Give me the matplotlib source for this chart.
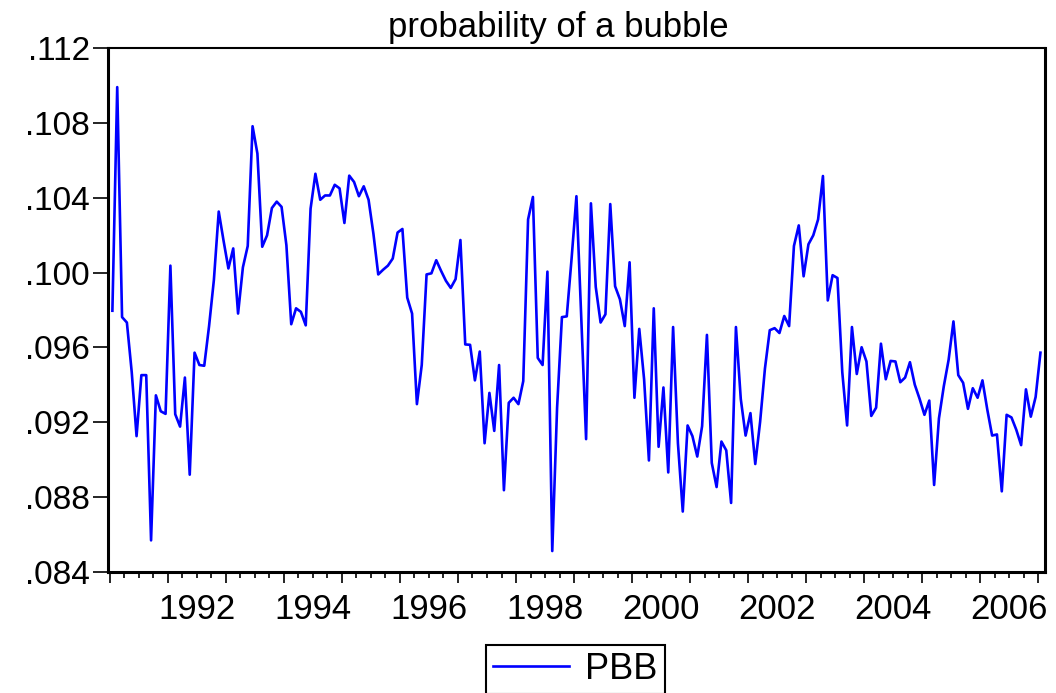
import numpy as np
import matplotlib
matplotlib.use("Agg")
import matplotlib.pyplot as plt
from matplotlib.ticker import FixedLocator, FuncFormatter
from matplotlib.transforms import blended_transform_factory

plt.rcParams['font.family'] = ['Liberation Sans', 'DejaVu Sans']

# ---- data: monthly series PBB, 1991:01 - 2007:01 ----
start_year = 1991
start_month = 1
pbb = [
    .09796, .10991, .09762, .09733, .09468, .09126, .09452, .09452, .08569, .09344,
    .09259, .09245, .10037, .09243, .09177, .09439, .08920, .09572, .09506, .09502,
    .09714, .09961, .10326, .10170, .10022, .10129, .09781, .10028, .10142, .10782,
    .10636, .10138, .10199, .10345, .10379, .10351, .10146, .09724, .09809, .09790,
    .09718, .10341, .10528, .10389, .10412, .10412, .10469, .10450, .10265, .10518,
    .10484, .10408, .10461, .10389, .10208, .09990, .10015, .10037, .10075, .10214,
    .10233, .09866, .09781, .09297, .09506, .09990, .09996, .10066, .10009, .09956,
    .09918, .09965, .10174, .09616, .09614, .09424, .09578, .09088, .09357, .09154,
    .09506, .08837, .09304, .09331, .09297, .09420, .10284, .10404, .09544, .09506,
    .10005, .08512, .09278, .09762, .09766, .10075, .10408, .09760, .09110, .10370,
    .09923, .09733, .09777, .10366, .09927, .09857, .09714, .10055, .09331, .09699,
    .09430, .08996, .09809, .09069, .09386, .08932, .09709, .09088, .08723, .09183,
    .09126, .09017, .09179, .09667, .08983, .08854, .09097, .09050, .08769, .09709,
    .09325, .09129, .09249, .08977, .09202, .09487, .09692, .09703, .09677, .09768,
    .09714, .10142, .10252, .09980, .10151, .10199, .10284, .10516, .09851, .09986,
    .09971, .09468, .09183, .09709, .09458, .09601, .09525, .09234, .09278, .09620,
    .09430, .09528, .09525, .09414, .09439, .09521, .09401, .09325, .09240, .09316,
    .08865, .09221, .09392, .09534, .09739, .09452, .09411, .09272, .09382, .09331,
    .09424, .09268, .09129, .09135, .08831, .09240, .09226, .09160, .09078, .09376,
    .09230, .09335, .09572,
]
year_labels = [1992, 1994, 1996, 1998, 2000, 2002, 2004, 2006]
y_ticks = [.084, .088, .092, .096, .100, .104, .108, .112]
title = "probability of a bubble"
series_name = "PBB"

# ---- figure ----
W, H = 1056, 693
fig = plt.figure(figsize=(W / 100, H / 100), dpi=100)
L, R, T, B = 108, 1045, 48, 572
ax = fig.add_axes([L / W, 1 - B / H, (R - L) / W, (B - T) / H])

n = len(pbb)
x = start_year + (start_month - 1) / 12 + (np.arange(n) + 0.5) / 12
ax.plot(x, pbb, color='#0000FF', lw=1.9, label=series_name)

ax.set_xlim(1990.966, 2007.12)
ax.set_ylim(.084, .112)

# y axis
ax.yaxis.set_major_locator(FixedLocator(y_ticks))
ax.yaxis.set_major_formatter(FuncFormatter(lambda v, p: ('%.3f' % v)[1:]))
ax.tick_params(axis='y', which='major', direction='out', length=11, width=1.2,
               labelsize=24, pad=2, colors='black')

# x axis: year ticks (long) and quarter ticks (short), labels centred in years
years = np.arange(1991, 2008)
quarters = [y + q / 4 for y in range(1991, 2008) for q in (1, 2, 3)]
quarters = [q for q in quarters if q < 2007.12]
ax.xaxis.set_major_locator(FixedLocator(years))
ax.xaxis.set_minor_locator(FixedLocator(quarters))
ax.tick_params(axis='x', which='major', direction='out', length=8, width=1.2,
               labelbottom=False)
ax.tick_params(axis='x', which='minor', direction='out', length=4.5, width=1.2)

trans = blended_transform_factory(ax.transData, ax.transAxes)
for yr in year_labels:
    ax.text(yr + 0.5, -0.04, str(yr), transform=trans, ha='center', va='top',
            fontsize=25, color='black')

for side in ['left', 'bottom', 'right']:
    ax.spines[side].set_linewidth(2.2)
ax.spines['top'].set_linewidth(1.5)

fig.text(558 / W, 1 - 27 / H, title, ha='center', va='center', fontsize=25)

leg = fig.legend(loc='center', bbox_to_anchor=(575.5 / W, 1 - 669.5 / H),
                 fontsize=26, handlelength=2.1, handletextpad=0.45,
                 borderpad=0.2, borderaxespad=0, fancybox=False,
                 edgecolor='black', framealpha=1)
leg.get_frame().set_linewidth(1.5)
for h in leg.legend_handles:
    h.set_linewidth(1.9)

fig.savefig('out.png', dpi=100)
